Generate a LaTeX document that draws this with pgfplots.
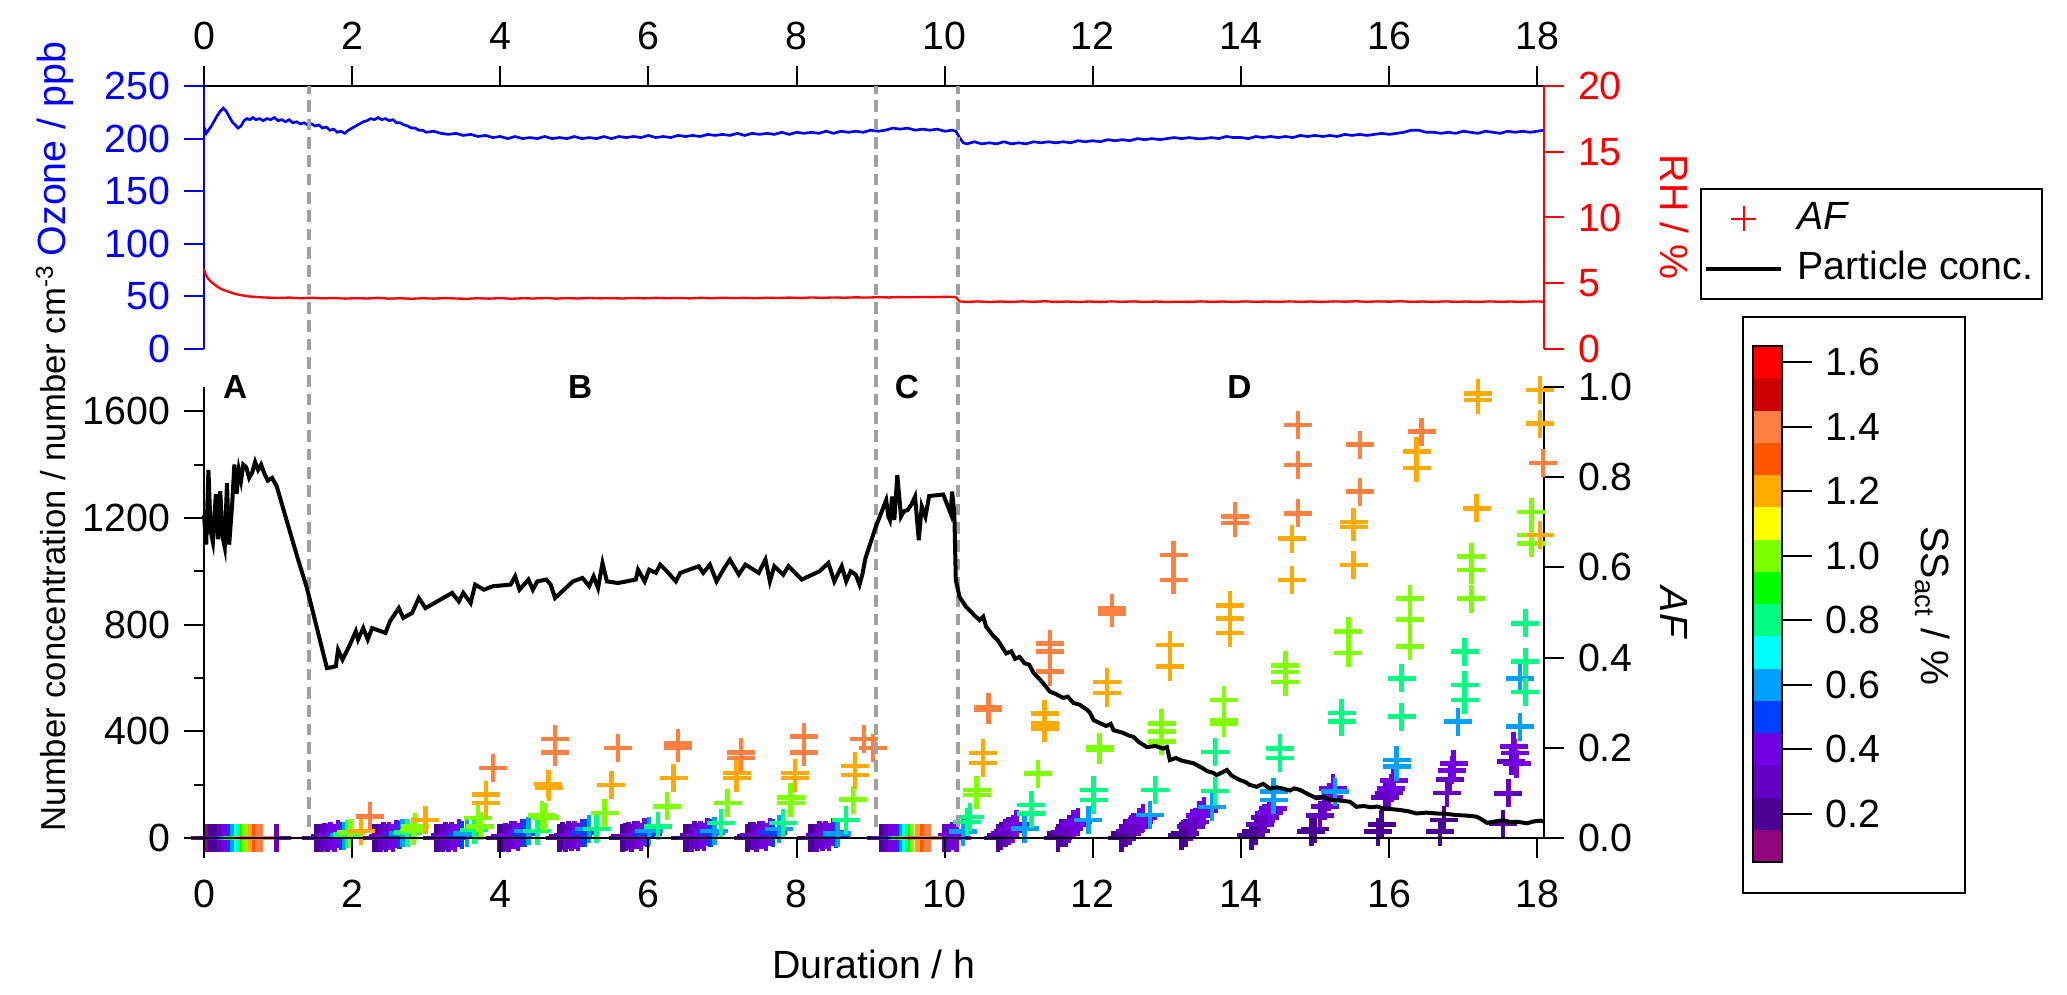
\documentclass[border=0pt]{standalone}
\usepackage{pgfplots}
\pgfplotsset{compat=1.18}
\usepackage{fontspec}
\setmainfont{Liberation Sans}
\newcommand\fs{\fontsize{11.8pt}{14pt}\selectfont}
\newcommand\fsn{\fontsize{10.4pt}{12pt}\selectfont}
\newcommand\fsl{\fontsize{10pt}{12pt}\selectfont\bfseries}
\definecolor{ss01}{RGB}{145,5,125}
\definecolor{ss02}{RGB}{75,0,150}
\definecolor{ss03}{RGB}{100,0,195}
\definecolor{ss04}{RGB}{115,0,228}
\definecolor{ss05}{RGB}{0,64,255}
\definecolor{ss06}{RGB}{0,160,255}
\definecolor{ss07}{RGB}{0,255,255}
\definecolor{ss08}{RGB}{0,255,128}
\definecolor{ss09}{RGB}{0,255,0}
\definecolor{ss10}{RGB}{128,255,0}
\definecolor{ss11}{RGB}{255,255,0}
\definecolor{ss12}{RGB}{255,170,0}
\definecolor{ss13}{RGB}{255,85,0}
\definecolor{ss14}{RGB}{255,128,64}
\definecolor{ss15}{RGB}{204,0,0}
\definecolor{ss16}{RGB}{255,0,0}
\definecolor{dashgray}{RGB}{160,160,160}
\pgfplotsset{
  base/.style={
    scale only axis, width=402.09pt, xmin=0, xmax=18.095,
    tick align=outside, major tick length=6pt, minor tick length=3pt,
    tick style={line width=0.6pt, black},
    axis line style={line width=0.6pt, -},
    tick label style={font=\fs},
    /pgf/number format/assume math mode=true,
    /pgf/number format/1000 sep={},
    scaled ticks=false,
    clip=false,
  },
  ssm/.style={only marks, mark=+, mark size=4.2pt, line width=1.35pt, color=#1},
}
\begin{document}
\fs
\begin{tikzpicture}
\begin{scope}[x=0.3pt,y=0.3pt]
\path[use as bounding box] (0,0) rectangle (2067,994);
\end{scope}
% ---------------- top panel: ozone -----------------
\begin{axis}[base, at={(61.2pt,193.5pt)}, anchor=south west, height=78.9pt,
  ymin=0, ymax=250,
  axis x line*=top, axis y line*=left,
  xtick pos=right, xticklabel pos=right,
  ytick pos=left, yticklabel pos=left,
  xticklabel style={yshift=0.8pt},
  xtick={0,2,4,6,8,10,12,14,16,18}, ytick={0,50,100,150,200,250},
  y axis line style={blue}, ytick style={blue}, yticklabel style={text=blue}]
\addplot[blue, line width=0.8pt] coordinates {
(0.00,211) (0.03,205) (0.06,208) (0.10,212) (0.14,217) (0.18,222) (0.22,226) (0.26,229) (0.30,226) (0.34,221)
(0.38,216) (0.42,213) (0.46,210) (0.50,212) (0.54,217) (0.58,219) (0.62,218) (0.66,220) (0.70,218) (0.75,219)
(0.80,217) (0.85,219) (0.90,218) (0.95,220) (1.00,217) (1.05,218) (1.10,216) (1.15,218) (1.20,215) (1.25,216)
(1.30,214) (1.35,215) (1.40,213) (1.45,214) (1.50,212) (1.55,213) (1.60,210) (1.65,211) (1.70,208) (1.75,209)
(1.80,206) (1.85,207) (1.90,205) (1.95,208) (2.00,210) (2.05,212) (2.10,214) (2.15,216) (2.20,217) (2.25,219)
(2.30,218) (2.35,220) (2.40,218) (2.45,219) (2.50,217) (2.55,218) (2.60,215) (2.65,215) (2.70,213) (2.75,212)
(2.80,210) (2.85,210) (2.90,208) (2.95,208) (3.00,206) (3.10,207) (3.20,205) (3.30,204) (3.40,205) (3.50,203)
(3.60,204) (3.70,202) (3.80,203) (3.90,201) (4.00,202) (4.10,200) (4.20,202) (4.30,200) (4.40,201) (4.50,200)
(4.60,202) (4.70,200) (4.80,201) (4.90,200) (5.00,202) (5.10,200) (5.20,201) (5.30,200) (5.40,202) (5.50,200)
(5.60,202) (5.70,201) (5.80,202) (5.90,201) (6.00,203) (6.10,201) (6.20,202) (6.30,201) (6.40,203) (6.50,202)
(6.60,203) (6.70,202) (6.80,204) (6.90,203) (7.00,204) (7.10,203) (7.20,205) (7.30,203) (7.40,205) (7.50,204)
(7.60,205) (7.70,204) (7.80,206) (7.90,204) (8.00,206) (8.10,205) (8.20,206) (8.30,205) (8.40,207) (8.50,205)
(8.60,207) (8.70,206) (8.80,207) (8.90,206) (9.00,208) (9.10,207) (9.20,208) (9.30,210) (9.40,209) (9.50,210)
(9.60,208) (9.70,209) (9.80,208) (9.90,209) (10.00,207) (10.10,208) (10.15,207) (10.20,201) (10.25,196) (10.30,195)
(10.40,197) (10.50,195) (10.60,196) (10.70,195) (10.80,197) (10.90,195) (11.00,196) (11.10,195) (11.20,197) (11.30,196)
(11.40,197) (11.50,196) (11.60,197) (11.70,196) (11.80,198) (11.90,197) (12.00,198) (12.10,197) (12.20,199) (12.30,198)
(12.40,199) (12.50,198) (12.60,200) (12.70,199) (12.80,200) (12.90,199) (13.00,200) (13.10,201) (13.20,200) (13.30,201)
(13.40,200) (13.50,200) (13.60,201) (13.70,200) (13.80,202) (13.90,201) (14.00,201) (14.10,200) (14.20,202) (14.30,201)
(14.40,202) (14.50,201) (14.60,202) (14.70,201) (14.80,203) (14.90,202) (15.00,203) (15.10,202) (15.20,203) (15.30,202)
(15.40,204) (15.50,203) (15.60,204) (15.70,203) (15.80,204) (15.90,205) (16.00,204) (16.10,205) (16.20,206) (16.30,208)
(16.40,208) (16.50,206) (16.60,206) (16.70,205) (16.80,206) (16.90,205) (17.00,207) (17.10,206) (17.20,205) (17.30,207)
(17.40,206) (17.50,205) (17.60,207) (17.70,206) (17.80,207) (17.90,206) (18.00,207) (18.09,208)
};
\end{axis}
% ---------------- top panel: RH -----------------
\begin{axis}[base, at={(61.2pt,193.5pt)}, anchor=south west, height=78.9pt,
  ymin=0, ymax=20,
  axis x line=none, xtick=\empty,
  axis y line*=right, ytick pos=right, yticklabel pos=right,
  ytick={0,5,10,15,20},
  y axis line style={red}, ytick style={red}, yticklabel style={text=red}]
\addplot[red, line width=0.7pt] coordinates {
(0.00,6.1) (0.02,5.7) (0.05,5.4) (0.08,5.2) (0.12,5.0) (0.16,4.82) (0.20,4.66) (0.25,4.52) (0.30,4.42) (0.35,4.32)
(0.40,4.22) (0.45,4.15) (0.50,4.1) (0.55,4.05) (0.60,4.0) (0.70,3.96) (0.80,3.92) (0.90,3.9) (1.00,3.88) (1.15,3.91)
(1.30,3.86) (1.45,3.9) (1.60,3.85) (1.75,3.88) (1.90,3.83) (2.05,3.87) (2.20,3.84) (2.35,3.89) (2.50,3.83) (2.65,3.86)
(2.80,3.82) (2.95,3.86) (3.10,3.83) (3.25,3.87) (3.40,3.84) (3.55,3.82) (3.70,3.86) (3.85,3.83) (4.00,3.87) (4.15,3.82)
(4.30,3.86) (4.45,3.84) (4.60,3.88) (4.75,3.83) (4.90,3.87) (5.05,3.84) (5.20,3.88) (5.35,3.85) (5.50,3.87) (5.65,3.84)
(5.80,3.88) (5.95,3.85) (6.10,3.89) (6.25,3.86) (6.40,3.88) (6.55,3.85) (6.70,3.89) (6.85,3.86) (7.00,3.9) (7.15,3.87)
(7.30,3.89) (7.45,3.86) (7.60,3.9) (7.75,3.88) (7.90,3.91) (8.05,3.88) (8.20,3.92) (8.35,3.89) (8.50,3.92) (8.65,3.9)
(8.80,3.93) (8.95,3.91) (9.10,3.94) (9.25,3.92) (9.40,3.95) (9.55,3.93) (9.70,3.96) (9.85,3.94) (10.00,3.97) (10.15,3.95)
(10.20,3.62) (10.30,3.58) (10.45,3.62) (10.60,3.57) (10.75,3.61) (10.90,3.58) (11.05,3.62) (11.20,3.59) (11.35,3.63) (11.50,3.58)
(11.65,3.61) (11.80,3.57) (11.95,3.61) (12.10,3.58) (12.25,3.62) (12.40,3.59) (12.55,3.62) (12.70,3.58) (12.85,3.61) (13.00,3.57)
(13.15,3.6) (13.30,3.58) (13.45,3.62) (13.60,3.59) (13.75,3.61) (13.90,3.58) (14.05,3.62) (14.20,3.59) (14.35,3.61) (14.50,3.58)
(14.65,3.62) (14.80,3.59) (14.95,3.61) (15.10,3.58) (15.25,3.62) (15.40,3.6) (15.55,3.63) (15.70,3.59) (15.85,3.62) (16.00,3.6)
(16.15,3.63) (16.30,3.59) (16.45,3.61) (16.60,3.58) (16.75,3.62) (16.90,3.59) (17.05,3.61) (17.20,3.58) (17.35,3.62) (17.50,3.59)
(17.65,3.61) (17.80,3.58) (17.95,3.62) (18.09,3.6)
};
\end{axis}
% ---------------- bottom panel: AF scatter (right axis) -----------------
\begin{axis}[base, at={(61.2pt,46.8pt)}, anchor=south west, height=135.3pt,
  ymin=0, ymax=1,
  axis x line=none, xtick=\empty,
  axis y line*=right, ytick pos=right, yticklabel pos=right,
  ytick={0,0.2,0.4,0.6,0.8,1},
  yticklabel style={/pgf/number format/fixed, /pgf/number format/fixed zerofill, /pgf/number format/precision=1}]
\addplot[ssm=ss01] coordinates {(0.02,0) (0.05,0)};
\addplot[ssm=ss02] coordinates {(0.08,0) (0.12,0) (0.16,0)
 (1.51,0) (1.55,0) (2.30,0) (2.34,0) (3.14,0) (3.18,0) (3.99,0) (4.03,0) (4.80,0) (4.84,0.004)
 (5.65,0) (5.69,0.003) (6.50,0) (6.54,0) (7.34,0) (7.38,0.004) (8.19,0) (8.23,0)
 (9.14,0) (9.17,0)
 (10.72,0) (10.76,0.005) (11.53,0) (11.57,0.01) (12.39,0) (12.44,0.01) (13.20,0.005) (13.25,0.01)
 (14.14,0.005) (14.20,0.015) (14.95,0.014) (15.00,0.02) (15.85,0.014) (15.90,0.03) (16.69,0.014) (16.74,0.04) (17.54,0.032)};
\addplot[ssm=ss03] coordinates {(0.20,0) (0.24,0) (0.98,0)
 (1.59,0) (1.63,0.003) (1.67,0) (2.38,0) (2.42,0.004) (2.46,0) (3.22,0) (3.26,0.005) (3.30,0)
 (4.07,0.003) (4.11,0) (4.15,0.006) (4.88,0) (4.92,0.006) (4.96,0.002) (5.73,0.004) (5.77,0) (5.81,0.007)
 (6.58,0) (6.62,0.006) (6.66,0.003) (7.42,0.005) (7.46,0) (7.50,0.007) (8.27,0) (8.31,0.006) (8.35,0.003)
 (9.20,0) (9.23,0) (9.99,0) (10.05,0)
 (10.82,0.01) (10.86,0.015) (11.63,0.012) (11.68,0.02) (12.50,0.015) (12.55,0.025) (13.32,0.025) (13.38,0.035)
 (14.26,0.03) (14.32,0.045) (15.07,0.05) (15.13,0.07) (15.95,0.09) (16.00,0.10) (16.78,0.10) (16.82,0.13)
 (17.61,0.099) (17.65,0.17)};
\addplot[ssm=ss04] coordinates {(0.27,0) (0.31,0)
 (1.71,0.005) (1.76,0) (1.81,0.008) (2.50,0.004) (2.55,0) (2.60,0.009) (3.34,0.005) (3.39,0) (3.44,0.01)
 (4.19,0.006) (4.24,0.002) (4.29,0.012) (5.00,0.006) (5.05,0.002) (5.10,0.012) (5.85,0.007) (5.90,0.003) (5.95,0.013)
 (6.70,0.006) (6.75,0.002) (6.80,0.014) (7.54,0.007) (7.59,0.003) (7.64,0.014) (8.39,0.006) (8.44,0.002) (8.49,0.013)
 (9.27,0) (9.30,0) (9.34,0) (10.10,0.005) (10.16,0)
 (10.92,0.02) (10.97,0.03) (11.74,0.03) (11.80,0.035) (12.62,0.035) (12.68,0.045) (13.44,0.05) (13.50,0.06)
 (14.38,0.055) (14.43,0.065) (15.19,0.09) (15.24,0.11) (16.03,0.11) (16.06,0.127) (16.85,0.15) (16.87,0.165)
 (17.68,0.203) (17.70,0.188) (17.72,0.165)};
\addplot[ssm=ss05] coordinates {(0.34,0) (9.38,0)
 (1.85,0.004) (2.64,0.006) (3.48,0.006) (4.33,0.01) (5.14,0.012) (5.99,0.01) (6.84,0.012) (7.68,0.012) (8.53,0.008)};
\addplot[ssm=ss06] coordinates {(0.38,0) (0.41,0) (9.42,0)
 (1.89,0.005) (2.68,0.01) (3.55,0.01) (4.38,0.015) (5.20,0.02) (6.01,0.015) (6.89,0.015) (7.76,0.02) (8.55,0.01)
 (10.25,0.014) (11.08,0.021) (11.94,0.040) (12.77,0.051) (13.61,0.069) (14.44,0.103) (14.44,0.084) (15.27,0.103)
 (16.10,0.173) (16.10,0.158) (16.93,0.258) (17.77,0.354) (17.77,0.247)};
\addplot[ssm=ss07] coordinates {(0.44,0) (9.46,0)};
\addplot[ssm=ss08] coordinates {(0.47,0) (9.49,0)
 (1.93,0.008) (2.75,0.012) (3.65,0.018) (4.50,0.015) (5.30,0.02) (6.13,0.026) (6.98,0.033) (7.82,0.033) (8.67,0.04)
 (10.30,0.035) (10.34,0.047) (11.17,0.073) (11.17,0.054) (12.01,0.106) (12.01,0.084) (12.84,0.106)
 (13.65,0.191) (13.65,0.104) (14.53,0.199) (14.53,0.177) (15.36,0.277) (15.36,0.258) (16.17,0.354) (16.17,0.269)
 (17.02,0.413) (17.02,0.339) (17.02,0.306) (17.84,0.476) (17.84,0.391) (17.84,0.324)};
\addplot[ssm=ss09] coordinates {(0.51,0) (9.53,0)};
\addplot[ssm=ss10] coordinates {(0.55,0) (0.58,0) (9.56,0)
 (1.98,0.012) (2.83,0.015) (2.85,0.025) (3.70,0.044) (3.73,0.026) (4.56,0.05) (4.60,0.046) (5.41,0.055)
 (6.25,0.07) (7.07,0.078) (7.92,0.09) (7.92,0.078) (8.76,0.085)
 (10.43,0.106) (10.43,0.095) (11.26,0.143) (12.09,0.202) (12.09,0.195) (12.93,0.254) (12.93,0.236) (12.93,0.214)
 (13.77,0.306) (13.77,0.262) (13.77,0.254) (14.60,0.383) (14.60,0.368) (14.60,0.346) (15.45,0.458) (15.45,0.410)
 (16.28,0.531) (16.28,0.484) (16.28,0.425) (17.11,0.624) (17.11,0.594) (17.11,0.531) (17.92,0.723) (17.92,0.672) (17.92,0.653)};
\addplot[ssm=ss12] coordinates {(0.62,0) (0.65,0) (9.63,0) (9.67,0)
 (2.12,0.015) (2.99,0.04) (3.81,0.096) (3.81,0.078) (4.65,0.12) (4.66,0.112) (5.50,0.118) (6.34,0.133)
 (7.19,0.144) (7.19,0.133) (7.98,0.144) (7.98,0.133) (8.79,0.16) (8.79,0.14)
 (10.52,0.189) (10.52,0.166) (11.35,0.276) (11.35,0.254) (11.35,0.243) (12.19,0.346) (12.19,0.321)
 (13.04,0.428) (13.04,0.380) (13.85,0.516) (13.85,0.487) (13.85,0.454) (14.69,0.572) (14.69,0.664)
 (15.52,0.701) (15.52,0.690) (15.52,0.605) (16.37,0.857) (16.37,0.820) (17.18,0.731) (17.20,0.986) (17.20,0.971)
 (18.04,0.993) (18.04,0.919) (18.04,0.672)};
\addplot[ssm=ss13] coordinates {(0.68,0) (9.70,0)};
\addplot[ssm=ss14] coordinates {(0.72,0) (0.76,0) (9.74,0) (9.78,0)
 (2.24,0.048) (3.90,0.155) (4.74,0.22) (4.74,0.19) (5.59,0.2) (6.40,0.21) (6.40,0.2) (7.25,0.19) (7.25,0.177)
 (8.10,0.225) (8.10,0.19) (8.91,0.22) (9.03,0.2)
 (10.59,0.284) (10.59,0.29) (11.42,0.431) (11.42,0.413) (11.42,0.369) (12.26,0.509) (12.26,0.498)
 (13.09,0.627) (13.09,0.572) (13.92,0.713) (13.92,0.698) (14.77,0.72) (14.77,0.827) (14.77,0.916)
 (15.61,0.768) (15.61,0.872) (16.44,0.901) (18.08,0.831)};
\end{axis}
% ---------------- bottom panel: particle concentration (left axis) -----------------
\begin{axis}[base, at={(61.2pt,46.8pt)}, anchor=south west, height=135.3pt,
  ymin=0, ymax=1691,
  axis x line*=bottom, axis y line*=left,
  xtick pos=left, xticklabel pos=left, ytick pos=left, yticklabel pos=left,
  xticklabel style={yshift=-2.5pt},
  xtick={0,2,4,6,8,10,12,14,16,18}, ytick={0,400,800,1200,1600}, minor ytick={200,600,1000,1400},
  legend style={at={(1.1161,1.4412)}, anchor=north west, draw=black, line width=0.6pt, fill=white,
    font=\fs, inner xsep=1pt, inner ysep=1.6pt, nodes={inner xsep=1.5pt, inner ysep=2.4pt},
    /tikz/every odd column/.append style={column sep=2.7pt}},
  legend cell align=left,
  legend image code/.code={\draw[mark repeat=2,mark phase=2,#1] plot coordinates {(0pt,0pt) (11.25pt,0pt) (22.5pt,0pt)};}]
\addlegendimage{only marks, mark=+, red, mark size=3.75pt, line width=0.7pt}
\addlegendentry{\textit{AF}}
\addplot[forget plot, dashgray, line width=1.2pt, dash pattern=on 3.5pt off 2pt] coordinates {(1.42,41) (1.42,2820)};
\addplot[forget plot, dashgray, line width=1.2pt, dash pattern=on 3.5pt off 2pt] coordinates {(9.07,41) (9.07,2820)};
\addplot[forget plot, dashgray, line width=1.2pt, dash pattern=on 3.5pt off 2pt] coordinates {(10.18,41) (10.18,2820)};
\addplot[black, line width=1.2pt] coordinates {
(0.00,1210) (0.03,1100) (0.06,1380) (0.09,1150) (0.12,1110) (0.16,1290) (0.19,1120) (0.22,1300) (0.25,1130) (0.28,1090)
(0.31,1330) (0.34,1100) (0.38,1250) (0.41,1400) (0.44,1290) (0.47,1380) (0.50,1340) (0.53,1400) (0.57,1390) (0.61,1350)
(0.65,1370) (0.69,1410) (0.73,1380) (0.77,1400) (0.81,1370) (0.86,1340) (0.92,1350) (0.98,1320) (1.27,1044) (1.39,937)
(1.66,637) (1.72,640) (1.78,644) (1.81,706) (1.87,669) (1.96,719) (2.05,775) (2.08,744) (2.15,787) (2.21,744)
(2.27,787) (2.45,769) (2.51,812) (2.63,862) (2.69,825) (2.81,844) (2.90,900) (2.99,862) (3.35,919) (3.44,887)
(3.50,919) (3.60,881) (3.66,950) (3.78,931) (3.90,944) (4.14,950) (4.20,981) (4.26,931) (4.38,969) (4.44,931)
(4.50,962) (4.62,969) (4.68,950) (4.74,900) (4.98,962) (5.11,975) (5.20,944) (5.26,981) (5.32,937) (5.38,1031)
(5.44,962) (5.59,956) (5.83,969) (5.86,1006) (5.95,962) (6.01,1006) (6.10,994) (6.16,1025) (6.25,1000) (6.37,962)
(6.43,994) (6.68,1019) (6.74,994) (6.83,1025) (6.92,962) (7.01,1006) (7.10,1044) (7.22,988) (7.31,1025) (7.49,994)
(7.58,1044) (7.64,962) (7.70,1019) (7.82,987) (7.89,1019) (8.07,969) (8.31,1000) (8.43,1031) (8.51,962) (8.61,1019)
(8.67,962) (8.73,1000) (8.80,987) (8.85,950) (8.89,990) (8.93,1049) (9.07,1167) (9.21,1267) (9.24,1205) (9.26,1192)
(9.29,1280) (9.32,1192) (9.36,1361) (9.41,1205) (9.45,1225) (9.50,1230) (9.55,1250) (9.60,1280) (9.65,1117) (9.69,1244)
(9.74,1205) (9.79,1282) (9.98,1288) (10.08,1217) (10.10,1299) (10.13,1217) (10.15,967) (10.20,904) (10.29,866) (10.35,850)
(10.40,835) (10.47,817) (10.52,830) (10.56,792) (10.65,760) (10.72,740) (10.83,692) (10.90,700) (10.95,672) (11.01,679)
(11.08,655) (11.14,650) (11.20,619) (11.30,590) (11.36,570) (11.42,549) (11.50,540) (11.60,525) (11.66,530) (11.74,506)
(11.82,500) (11.92,481) (11.96,470) (12.01,442) (12.10,430) (12.18,420) (12.24,428) (12.28,404) (12.40,395) (12.48,385)
(12.55,379) (12.62,360) (12.73,341) (12.85,345) (12.95,335) (13.00,341) (13.04,292) (13.12,300) (13.20,290) (13.28,285)
(13.36,280) (13.46,265) (13.55,250) (13.62,245) (13.67,236) (13.74,245) (13.81,255) (13.87,235) (13.93,225) (13.99,217)
(14.06,210) (14.12,199) (14.21,192) (14.30,203) (14.39,185) (14.48,190) (14.57,185) (14.66,178) (14.72,186) (14.80,180)
(14.90,165) (15.02,149) (15.10,155) (15.18,145) (15.25,142) (15.35,140) (15.47,136) (15.56,117) (15.66,120) (15.75,115)
(15.84,118) (15.92,111) (16.04,108) (16.15,105) (16.26,100) (16.37,92) (16.50,95) (16.64,92) (16.78,90) (16.91,86)
(17.05,84) (17.18,80) (17.25,70) (17.32,57) (17.43,62) (17.54,67) (17.63,60) (17.72,61) (17.80,58) (17.86,55)
(17.95,62) (18.04,65) (18.09,62)
};
\addlegendentry{Particle conc.}
\node[font=\fsl] at (axis cs:0.42,1691) {A};
\node[font=\fsl] at (axis cs:5.08,1691) {B};
\node[font=\fsl] at (axis cs:9.49,1691) {C};
\node[font=\fsl] at (axis cs:13.98,1691) {D};
\end{axis}
% ---------------- colour bar -----------------
\begin{axis}[scale only axis, at={(525.9pt,39.6pt)}, anchor=south west, width=8.7pt, height=154.8pt,
  xmin=0, xmax=1, ymin=0.05, ymax=1.65, xtick=\empty,
  ytick={0.2,0.4,0.6,0.8,1.0,1.2,1.4,1.6}, ytick pos=right, yticklabel pos=right,
  tick align=outside, major tick length=9pt, tick style={line width=0.6pt, black},
  axis line style={line width=0.8pt}, axis on top,
  tick label style={font=\fs},
  /pgf/number format/assume math mode=true,
  yticklabel style={/pgf/number format/fixed, /pgf/number format/fixed zerofill, /pgf/number format/precision=1}]
\addplot[fill=ss01, draw=none] coordinates {(0,0.05) (1,0.05) (1,0.15) (0,0.15)};
\addplot[fill=ss02, draw=none] coordinates {(0,0.15) (1,0.15) (1,0.25) (0,0.25)};
\addplot[fill=ss03, draw=none] coordinates {(0,0.25) (1,0.25) (1,0.35) (0,0.35)};
\addplot[fill=ss04, draw=none] coordinates {(0,0.35) (1,0.35) (1,0.45) (0,0.45)};
\addplot[fill=ss05, draw=none] coordinates {(0,0.45) (1,0.45) (1,0.55) (0,0.55)};
\addplot[fill=ss06, draw=none] coordinates {(0,0.55) (1,0.55) (1,0.65) (0,0.65)};
\addplot[fill=ss07, draw=none] coordinates {(0,0.65) (1,0.65) (1,0.75) (0,0.75)};
\addplot[fill=ss08, draw=none] coordinates {(0,0.75) (1,0.75) (1,0.85) (0,0.85)};
\addplot[fill=ss09, draw=none] coordinates {(0,0.85) (1,0.85) (1,0.95) (0,0.95)};
\addplot[fill=ss10, draw=none] coordinates {(0,0.95) (1,0.95) (1,1.05) (0,1.05)};
\addplot[fill=ss11, draw=none] coordinates {(0,1.05) (1,1.05) (1,1.15) (0,1.15)};
\addplot[fill=ss12, draw=none] coordinates {(0,1.15) (1,1.15) (1,1.25) (0,1.25)};
\addplot[fill=ss13, draw=none] coordinates {(0,1.25) (1,1.25) (1,1.35) (0,1.35)};
\addplot[fill=ss14, draw=none] coordinates {(0,1.35) (1,1.35) (1,1.45) (0,1.45)};
\addplot[fill=ss15, draw=none] coordinates {(0,1.45) (1,1.45) (1,1.55) (0,1.55)};
\addplot[fill=ss16, draw=none] coordinates {(0,1.55) (1,1.55) (1,1.65) (0,1.65)};
\end{axis}
% ---------------- labels and boxes -----------------
\begin{scope}[x=0.3pt,y=0.3pt]
\draw[line width=0.6pt] (1743,101) rectangle (1965,677);
\node[rotate=-90, font=\fs] at (1933,388) {SS\textsubscript{act} / \%};
\node[rotate=90, anchor=base, text=blue, font=\fs] at (65,845) {Ozone / ppb};
\node[rotate=90, anchor=base, font=\fsn] at (65,446) {Number concentration / number cm\textsuperscript{-3}};
\node[anchor=base, font=\fs] at (874,16) {Duration / h};
\node[rotate=-90, anchor=base, text=red, font=\fs] at (1660,777) {RH / \%};
\node[rotate=-90, anchor=base, font=\fs] at (1660,381) {\textit{AF}};
\end{scope}
\end{tikzpicture}
\end{document}
